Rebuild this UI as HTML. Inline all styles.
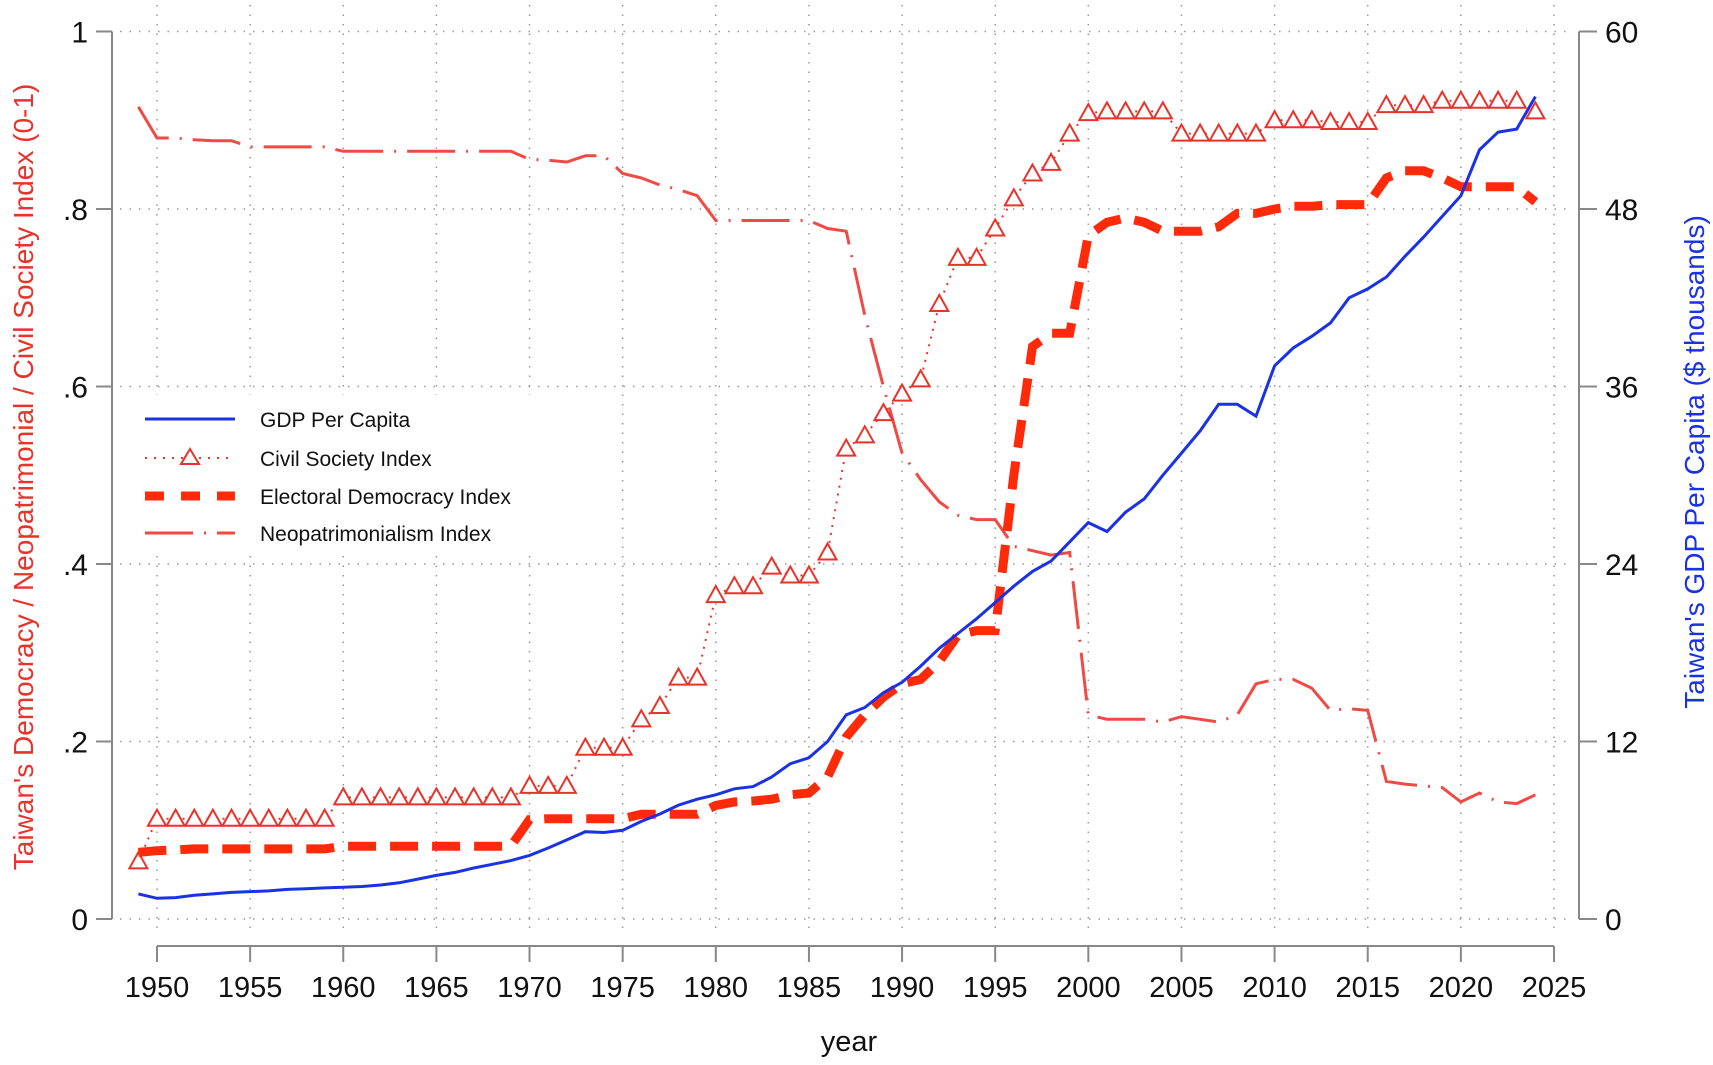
<!DOCTYPE html>
<html><head><meta charset="utf-8"><style>
html,body{margin:0;padding:0;background:#fff;}
svg{display:block;font-family:"Liberation Sans",Arial,sans-serif;}
</style></head><body>
<svg id="chart" width="1713" height="1065" viewBox="0 0 1713 1065" xmlns="http://www.w3.org/2000/svg">
<rect width="1713" height="1065" fill="#fff"/>
<g id="grid"></g>
<g id="axes"></g>
<g id="series"></g>
<g id="legend">
<rect x="130" y="395" width="430" height="160" fill="#fff"/>
<g>
<line x1="145" y1="419" x2="235" y2="419" stroke="#1a32e6" stroke-width="3"/>
<text x="260" y="427" font-size="21" fill="#111">GDP Per Capita</text></g>
<g>
<line x1="145" y1="458" x2="235" y2="458" stroke="#e8332a" stroke-width="2" stroke-dasharray="2,7"/>
<path d="M190,449 L199,464 L181,464 Z" fill="#fff" stroke="#e8332a" stroke-width="2"/>
<text x="260" y="466" font-size="21" fill="#111">Civil Society Index</text></g>
<g>
<line x1="145" y1="496" x2="235" y2="496" stroke="#ff2a0a" stroke-width="9" stroke-dasharray="19,17"/>
<text x="260" y="504" font-size="21" fill="#111">Electoral Democracy Index</text></g>
<g>
<line x1="145" y1="533" x2="235" y2="533" stroke="#f04a45" stroke-width="3" stroke-dasharray="48,11,2,11"/>
<text x="260" y="541" font-size="21" fill="#111">Neopatrimonialism Index</text></g>
</g>
<text transform="translate(33,477) rotate(-90)" text-anchor="middle" font-size="28" fill="#e8332a">Taiwan's Democracy / Neopatrimonial / Civil Society Index (0-1)</text>
<text transform="translate(1704,462) rotate(-90)" text-anchor="middle" font-size="28" fill="#1a32e6">Taiwan's GDP Per Capita ($ thousands)</text>
<text x="849" y="1051" text-anchor="middle" font-size="29" fill="#111">year</text>
</svg>
<script>
const years = [];
for (let y = 1949; y <= 2024; y++) years.push(y);
const gdp = [1.7,1.4,1.45,1.6,1.7,1.8,1.85,1.9,2.0,2.05,2.1,2.15,2.2,2.3,2.45,2.7,2.95,3.15,3.45,3.7,3.95,4.3,4.8,5.35,5.9,5.85,6.0,6.6,7.1,7.7,8.1,8.4,8.8,8.95,9.6,10.5,10.9,12.0,13.8,14.3,15.3,16.0,17.1,18.3,19.3,20.3,21.4,22.5,23.5,24.2,25.5,26.8,26.2,27.5,28.4,30.0,31.5,33.0,34.8,34.8,34.0,37.4,38.6,39.4,40.3,42.0,42.6,43.4,44.8,46.1,47.5,48.9,52.0,53.2,53.4,55.6];
const civil = [0.065,0.113,0.113,0.113,0.113,0.113,0.113,0.113,0.113,0.113,0.113,0.137,0.137,0.137,0.137,0.137,0.137,0.137,0.137,0.137,0.137,0.15,0.15,0.15,0.193,0.193,0.193,0.225,0.24,0.272,0.272,0.365,0.375,0.375,0.397,0.387,0.387,0.413,0.53,0.545,0.57,0.592,0.608,0.693,0.745,0.745,0.778,0.812,0.84,0.852,0.885,0.908,0.91,0.91,0.91,0.91,0.885,0.885,0.885,0.885,0.885,0.9,0.9,0.9,0.898,0.898,0.898,0.917,0.917,0.917,0.922,0.922,0.922,0.922,0.922,0.91];
const electoral = [0.075,0.077,0.078,0.079,0.079,0.079,0.079,0.079,0.079,0.079,0.079,0.082,0.082,0.082,0.082,0.082,0.082,0.082,0.082,0.082,0.082,0.112,0.113,0.113,0.113,0.113,0.113,0.118,0.118,0.118,0.118,0.128,0.132,0.133,0.135,0.14,0.142,0.16,0.205,0.23,0.25,0.265,0.27,0.29,0.32,0.325,0.325,0.5,0.645,0.66,0.66,0.77,0.785,0.79,0.785,0.775,0.775,0.775,0.78,0.795,0.795,0.8,0.803,0.803,0.805,0.805,0.805,0.835,0.843,0.843,0.835,0.825,0.825,0.825,0.825,0.808];
const neopat = [0.915,0.88,0.88,0.878,0.877,0.877,0.87,0.87,0.87,0.87,0.87,0.865,0.865,0.865,0.865,0.865,0.865,0.865,0.865,0.865,0.865,0.856,0.855,0.853,0.86,0.86,0.84,0.835,0.827,0.822,0.815,0.787,0.787,0.787,0.787,0.787,0.787,0.778,0.775,0.68,0.6,0.525,0.495,0.47,0.455,0.45,0.45,0.42,0.415,0.41,0.413,0.23,0.225,0.225,0.225,0.222,0.228,0.225,0.222,0.23,0.265,0.27,0.27,0.26,0.235,0.237,0.235,0.155,0.152,0.15,0.148,0.132,0.142,0.132,0.13,0.14];
const xTicks = [1950,1955,1960,1965,1970,1975,1980,1985,1990,1995,2000,2005,2010,2015,2020,2025];
const leftTicks = [0,0.2,0.4,0.6,0.8,1];
const leftTickLabels = ["0",".2",".4",".6",".8","1"];
const rightTicks = [0,12,24,36,48,60];

const NS = "http://www.w3.org/2000/svg";
const xS = v => 157 + (v - 1950) * (1554 - 157) / 75;
const yL = v => 919 - v * 887.5;
const yR = v => 919 - v / 60 * 887.5;
function mk(tag, attrs, parent) {
  const e = document.createElementNS(NS, tag);
  for (const k in attrs) e.setAttribute(k, attrs[k]);
  parent.appendChild(e);
  return e;
}
const grid = document.getElementById('grid');
const axes = document.getElementById('axes');
const series = document.getElementById('series');

xTicks.forEach(t => {
  const g = mk('line', {x1: xS(t), x2: xS(t), y1: 5, y2: 935, stroke: '#999', 'stroke-width': 1.5, 'stroke-dasharray': '1.5,8'}, grid);
  
  
  const tk = mk('line', {x1: xS(t), x2: xS(t), y1: 946, y2: 962, stroke: '#888', 'stroke-width': 2}, axes);
  
  
  const tx = mk('text', {x: xS(t), y: 997, 'text-anchor': 'middle', 'font-size': 29, fill: '#111'}, axes);
  tx.textContent = t;
  
  
});
leftTicks.forEach((t, i) => {
  const g = mk('line', {x1: 120, x2: 1572, y1: yL(t), y2: yL(t), stroke: '#999', 'stroke-width': 1.5, 'stroke-dasharray': '1.5,8'}, grid);
  
  
  const tk = mk('line', {x1: 96, x2: 112, y1: yL(t), y2: yL(t), stroke: '#888', 'stroke-width': 2}, axes);
  
  
  const tx = mk('text', {x: 88, y: yL(t) + 11, 'text-anchor': 'end', 'font-size': 30, fill: '#111'}, axes);
  tx.textContent = leftTickLabels[i];
  
  
});
rightTicks.forEach(t => {
  const tk = mk('line', {x1: 1579, x2: 1597, y1: yR(t), y2: yR(t), stroke: '#888', 'stroke-width': 2}, axes);
  
  
  const tx = mk('text', {x: 1605, y: yR(t) + 11, 'font-size': 30, fill: '#111'}, axes);
  tx.textContent = t;
  
  
});
const la = mk('line', {x1: 112, x2: 112, y1: yL(1), y2: yL(0), stroke: '#888', 'stroke-width': 2}, axes);


const ra = mk('line', {x1: 1579, x2: 1579, y1: yR(60), y2: yR(0), stroke: '#888', 'stroke-width': 2}, axes);


const xa = mk('line', {x1: xS(1950), x2: xS(2025), y1: 946, y2: 946, stroke: '#888', 'stroke-width': 2}, axes);



function pts(arr, yf) { return arr.map((v, i) => xS(years[i]).toFixed(1) + ',' + yf(v).toFixed(1)).join(' '); }

const pn = mk('polyline', {points: pts(neopat, yL), fill: 'none', stroke: '#f04a45', 'stroke-width': 3, 'stroke-dasharray': '48,11,2,11'}, series);


const pc = mk('polyline', {points: pts(civil, yL), fill: 'none', stroke: '#e8332a', 'stroke-width': 2, 'stroke-dasharray': '2,6'}, series);


civil.forEach((v, i) => {
  const x = xS(years[i]), y = yL(v);
  const m = mk('path', {d: `M${x},${y-9} L${x+9},${y+7} L${x-9},${y+7} Z`, fill: '#fff', stroke: '#e8332a', 'stroke-width': 2}, series);
  
  
});
const pe = mk('polyline', {points: pts(electoral, yL), fill: 'none', stroke: '#ff2a0a', 'stroke-width': 9, 'stroke-dasharray': '28,14'}, series);


const pg = mk('polyline', {points: pts(gdp, yR), fill: 'none', stroke: '#1a32e6', 'stroke-width': 3}, series);


</script>
</body></html>
